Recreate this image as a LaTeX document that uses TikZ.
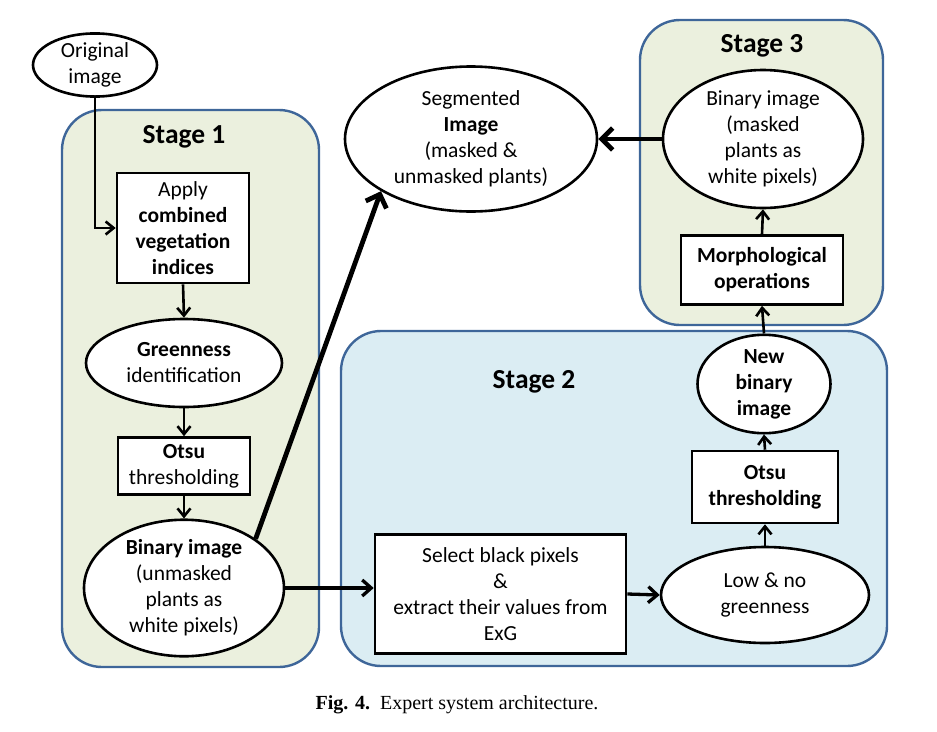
\documentclass[tikz,border=0pt]{standalone}
\usepackage{fontspec}
\setmainfont{Carlito}
\newfontfamily\capfont{Liberation Serif}
\usetikzlibrary{shapes.geometric,arrows.meta}
\definecolor{stgreen}{HTML}{EBF0DE}
\definecolor{stblue}{HTML}{DBEDF3}
\definecolor{stborder}{HTML}{3E6699}
\begin{document}
\begin{tikzpicture}[x=1pt,y=-1pt,
  txt/.style={font=\fontsize{21.5}{26}\selectfont},
  ell/.style={ellipse, draw, line width=2.6pt, fill=white, inner sep=0pt, align=center, txt},
  rbox/.style={rectangle, draw, line width=2.6pt, fill=white, inner sep=0pt, align=center, txt},
  stagebox/.style={draw=stborder, line width=2.4pt, rounded corners=40pt},
  stagetitle/.style={anchor=base, font=\bfseries\fontsize{27.5}{33}\selectfont},
  conn/.style={line width=2.6pt, -{Straight Barb[length=8pt,width=13pt]}},
  midconn/.style={line width=3.3pt, -{Straight Barb[length=9pt,width=16pt]}},
  bigconn/.style={line width=4.8pt, -{Straight Barb[length=11pt,width=22pt]}}]
\useasboundingbox (0,0) rectangle (937,731);
% stage frames
\draw[stagebox, fill=stgreen] (62,110) rectangle (319,667);
\draw[stagebox, fill=stgreen] (640,20) rectangle (883,325);
\draw[stagebox, fill=stblue] (341,331) rectangle (887,666);
\node[stagetitle] (t1) at (184,143) {Stage 1};
\node[stagetitle] (t3) at (762,52) {Stage 3};
\node[stagetitle] (t2) at (534,388) {Stage 2};
% nodes
\node[ell, minimum width=124pt, minimum height=62pt] (orig) at (95,65) {Original\\image};
\node[rbox, minimum width=132pt, minimum height=110pt] (apply) at (183,228) {Apply\\\textbf{combined}\\\textbf{vegetation}\\\textbf{indices}};
\node[ell, minimum width=196pt, minimum height=88pt] (green) at (184,363) {\textbf{Greenness}\\identification};
\node[rbox, minimum width=132pt, minimum height=57pt] (otsu1) at (184,466) {\textbf{Otsu}\\thresholding};
\node[ell, minimum width=200pt, minimum height=130pt] (bin1) at (184,588) {\textbf{Binary image}\\(unmasked\\plants as\\white pixels)};
\node[ell, minimum width=252pt, minimum height=145pt] (seg) at (471,139) {Segmented\\\textbf{Image}\\(masked \&\\unmasked plants)};
\node[ell, minimum width=200pt, minimum height=138pt] (bin3) at (763,139) {Binary image\\(masked\\plants as\\white pixels)};
\node[rbox, minimum width=162pt, minimum height=69pt] (morph) at (762,270) {\textbf{Morphological}\\\textbf{operations}};
\node[ell, minimum width=133pt, minimum height=90pt] (newbin) at (764,384) {\textbf{New}\\\textbf{binary}\\\textbf{image}};
\node[rbox, minimum width=146pt, minimum height=72pt] (otsu2) at (765,487) {\textbf{Otsu}\\\textbf{thresholding}};
\node[ell, minimum width=208pt, minimum height=96pt] (low) at (765,595) {Low \& no\\greenness};
\node[rbox, minimum width=251pt, minimum height=119pt] (select) at (500.5,594) {Select black pixels\\\&\\extract their values from\\ExG};
% connectors
\draw[conn] (orig.south) |- (apply.west);
\draw[conn] (apply.south) -- (green.north);
\draw[conn] (green.south) -- (otsu1.north);
\draw[conn] (otsu1.south) -- (bin1.north);
\draw[bigconn] (bin1.north east) -- (seg.south west);
\draw[bigconn] (bin3.west) -- (seg.east);
\draw[midconn] (bin1.east) -- (bin1.east -| select.west);
\draw[midconn] (select.east) -- (low.west);
\draw[conn] (low.north) -- (otsu2.south);
\draw[conn] (otsu2.north) -- (newbin.south);
\draw[conn] (newbin.north) -- (morph.south);
\draw[conn] (morph.north) -- (bin3.south);
% caption
\node[font=\capfont\fontsize{20}{24}\selectfont, anchor=base] (cap) at (457,709) {\textbf{Fig. 4.}\ \ Expert system architecture.};
\end{tikzpicture}
\end{document}
